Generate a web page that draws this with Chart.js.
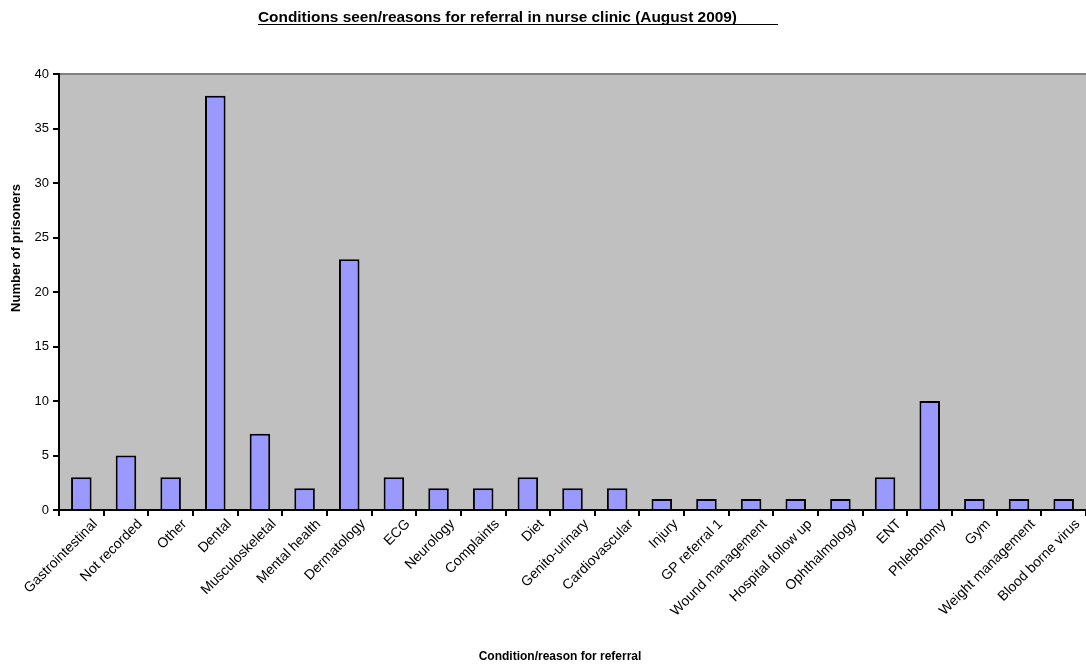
<!DOCTYPE html>
<html>
<head>
<meta charset="utf-8">
<script src="https://cdn.jsdelivr.net/npm/chart.js@4/dist/chart.umd.min.js"></script>
<style>
html,body{margin:0;padding:0;background:#fff;}
#wrap{width:1086px;height:666px;position:relative;}
</style>
</head>
<body>
<div id="wrap"><canvas id="c" width="1086" height="666"></canvas></div>
<script>
const categories = ["Gastrointestinal","Not recorded","Other","Dental","Musculoskeletal","Mental health","Dermatology","ECG","Neurology","Complaints","Diet","Genito-urinary","Cardiovascular","Injury","GP referral 1","Wound management","Hospital follow up","Ophthalmology","ENT","Phlebotomy","Gym","Weight management","Blood borne virus"];
const prisoners = [3,5,3,38,7,2,23,3,2,2,3,2,2,1,1,1,1,1,3,10,1,1,1];
const yTicks = [0,5,10,15,20,25,30,35,40];
const titleText = "Conditions seen/reasons for referral in nurse clinic (August 2009)";
const xTitle = "Condition/reason for referral";
const yTitle = "Number of prisoners";

const plotBg = {
  id: 'plotBg',
  beforeDraw(chart) {
    const {ctx, chartArea: a} = chart;
    ctx.save();
    ctx.fillStyle = '#C0C0C0';
    ctx.fillRect(a.left, a.top, a.right - a.left, a.bottom - a.top);
    ctx.strokeStyle = '#808080';
    ctx.lineWidth = 2;
    ctx.beginPath();
    ctx.moveTo(a.left, a.top);
    ctx.lineTo(a.right, a.top);
    ctx.stroke();
    ctx.restore();
  }
};

const texts = {
  id: 'texts',
  afterDraw(chart) {
    const ctx = chart.ctx;
    ctx.save();
    ctx.fillStyle = '#000';
    ctx.font = "bold 15.4px 'Liberation Sans', Arial, sans-serif";
    ctx.textAlign = 'left';
    ctx.textBaseline = 'alphabetic';
    const x0 = 258;
    ctx.fillText(titleText, x0, 22);
    ctx.strokeStyle = '#000';
    ctx.lineWidth = 1;
    ctx.beginPath();
    ctx.moveTo(x0, 24.5);
    ctx.lineTo(778, 24.5);
    ctx.stroke();
    ctx.font = "bold 12px 'Liberation Sans', Arial, sans-serif";
    ctx.textAlign = 'center';
    ctx.textBaseline = 'middle';
    ctx.fillText(xTitle, 560, 657);
    ctx.font = "bold 13px 'Liberation Sans', Arial, sans-serif";
    ctx.translate(16, 248);
    ctx.rotate(-Math.PI / 2);
    ctx.fillText(yTitle, 0, 0);
    ctx.restore();
  }
};

new Chart(document.getElementById('c'), {
  type: 'bar',
  data: {
    labels: categories,
    datasets: [{
      data: prisoners,
      backgroundColor: '#9999FF',
      borderColor: '#000000',
      borderWidth: 2,
      categoryPercentage: 1,
      barPercentage: 0.46
    }]
  },
  options: {
    responsive: false,
    animation: false,
    devicePixelRatio: 1,
    layout: { padding: { top: 74, left: 0, right: 0, bottom: 0 } },
    plugins: { legend: { display: false }, tooltip: { enabled: false } },
    scales: {
      x: {
        afterFit(s) { s.height = 156; },
        grid: { offset: true, drawOnChartArea: false, color: '#000', tickLength: 6, lineWidth: 2 },
        border: { color: '#000', width: 2 },
        ticks: {
          color: '#000',
          font: { family: "'Liberation Sans', Arial, sans-serif", size: 14 },
          maxRotation: 45, minRotation: 45, autoSkip: false, padding: 0, labelOffset: 14
        }
      },
      y: {
        min: 0, max: 40,
        afterFit(s) { s.width = 59; },
        afterBuildTicks(s) { s.ticks = yTicks.map(v => ({ value: v })); },
        grid: { drawOnChartArea: false, color: '#000', tickLength: 6, lineWidth: 2 },
        border: { color: '#000', width: 2 },
        ticks: {
          color: '#000', padding: 4,
          font: { family: "'Liberation Sans', Arial, sans-serif", size: 13 }
        }
      }
    }
  },
  plugins: [plotBg, texts]
});
</script>
</body>
</html>
